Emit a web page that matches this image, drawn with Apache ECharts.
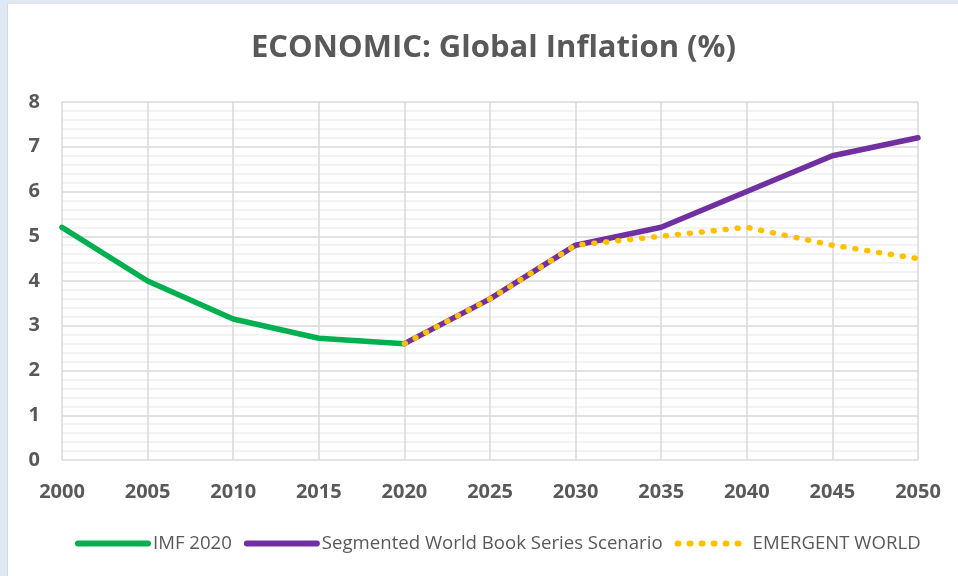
<!DOCTYPE html>
<html>
<head>
<meta charset="utf-8">
<script src="https://cdn.jsdelivr.net/npm/echarts@6/dist/echarts.min.js"></script>
<style>
  html, body { margin: 0; padding: 0; background: #fff; }
  #main { width: 958px; height: 576px; }
</style>
</head>
<body>
<div id="main"></div>
<script>
  // values
  var years = [2000, 2005, 2010, 2015, 2020, 2025, 2030, 2035, 2040, 2045, 2050];
  var imf2020 = [5.2, 4.0, 3.15, 2.72, 2.6];
  var segmented = [null, null, null, null, 2.6, 3.6, 4.8, 5.2, 6.0, 6.8, 7.2];
  var emergent = [null, null, null, null, 2.6, 3.6, 4.8, 5.0, 5.2, 4.8, 4.5];

  function pairs(vals) {
    var out = [];
    for (var i = 0; i < vals.length; i++) {
      if (vals[i] != null) out.push([years[i], vals[i]]);
    }
    return out;
  }

  var textColor = '#595959';
  var myChart = echarts.init(document.getElementById('main'));
  myChart.setOption({
    animation: false,
    backgroundColor: '#fff',
    graphic: [
      { type: 'rect', shape: { x: 0, y: 0, width: 7, height: 576 }, style: { fill: '#dee8f4' } },
      { type: 'rect', shape: { x: 7, y: 0, width: 1, height: 576 }, style: { fill: '#d4d8dc' } },
      { type: 'rect', shape: { x: 0, y: 0, width: 958, height: 3 }, style: { fill: '#dee8f4' } },
      { type: 'rect', shape: { x: 7, y: 3, width: 951, height: 1 }, style: { fill: '#e6e2e0' } }
    ],
    title: {
      text: 'ECONOMIC: Global Inflation (%)',
      left: 246,
      top: 28,
      textStyle: { fontFamily: 'Open Sans', fontWeight: 'bold', fontSize: 31, color: textColor }
    },
    legend: {
      bottom: 18,
      left: 70,
      itemWidth: 70,
      itemHeight: 10,
      itemGap: 12,
      itemStyle: { opacity: 0 },
      lineStyle: { width: 6, cap: 'round' },
      textStyle: { fontFamily: 'Open Sans', fontSize: 18.6, color: textColor },
      data: ['IMF 2020', 'Segmented World Book Series Scenario', 'EMERGENT WORLD']
    },
    grid: { left: 62, right: 40, top: 102, bottom: 116 },
    xAxis: {
      type: 'value',
      min: 2000,
      max: 2050,
      interval: 5,
      axisLine: { show: false },
      axisTick: { show: false },
      axisLabel: {
        margin: 22,
        color: textColor,
        fontFamily: 'Open Sans',
        fontWeight: 'bold',
        fontSize: 20,
        formatter: function (v) { return String(v); }
      },
      splitLine: { lineStyle: { color: '#d9d9d9', width: 1.5 } }
    },
    yAxis: {
      type: 'value',
      min: 0,
      max: 8,
      interval: 1,
      axisLine: { show: false },
      axisTick: { show: false },
      axisLabel: {
        margin: 22,
        color: textColor,
        fontFamily: 'Open Sans',
        fontWeight: 'bold',
        fontSize: 20
      },
      splitLine: { lineStyle: { color: '#d9d9d9', width: 1.5 } },
      minorTick: { show: false, splitNumber: 5 },
      minorSplitLine: { show: true, lineStyle: { color: '#efefef', width: 1.5 } }
    },
    series: [
      {
        name: 'IMF 2020',
        type: 'line',
        data: pairs(imf2020),
        showSymbol: false,
        symbol: 'none',
        itemStyle: { color: '#00b050' },
        lineStyle: { color: '#00b050', width: 5.5, cap: 'round' },
        z: 3
      },
      {
        name: 'Segmented World Book Series Scenario',
        type: 'line',
        data: pairs(segmented),
        showSymbol: false,
        symbol: 'none',
        itemStyle: { color: '#7030a0' },
        lineStyle: { color: '#7030a0', width: 5.5, cap: 'round' },
        z: 4
      },
      {
        name: 'EMERGENT WORLD',
        type: 'line',
        data: pairs(emergent),
        showSymbol: false,
        symbol: 'none',
        itemStyle: { color: '#ffc000' },
        lineStyle: { color: '#ffc000', width: 5.5, type: [1, 11], cap: 'round' },
        z: 5
      }
    ]
  });
</script>
</body>
</html>
